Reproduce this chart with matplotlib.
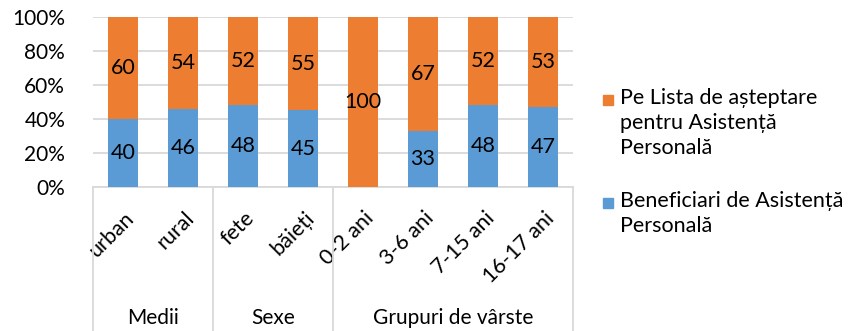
import matplotlib
matplotlib.use("Agg")
import matplotlib.pyplot as plt
import matplotlib.transforms as mtransforms
import numpy as np

plt.rcParams['font.family'] = ['Lato', 'DejaVu Sans']

categories = ["urban", "rural", "fete", "băieți", "0-2 ani", "3-6 ani", "7-15 ani", "16-17 ani"]
beneficiari = [40, 46, 48, 45, 0, 33, 48, 47]
lista = [60, 54, 52, 55, 100, 67, 52, 53]
groups = ["Medii", "Sexe", "Grupuri de vârste"]
group_sizes = [2, 2, 4]
series_names = ["Pe Lista de așteptare\npentru Asistență\nPersonală",
                "Beneficiari de Asistență\nPersonală"]

blue = "#5B9BD5"
orange = "#ED7D31"
grid_c = '#D9D9D9'

W, H = 855, 331
fig = plt.figure(figsize=(W/100, H/100), dpi=100)
ax = fig.add_axes([93/W, 1-187/H, 480/W, 170/H])

x = np.arange(len(categories))
ax.bar(x, beneficiari, width=0.5, color=blue, zorder=3)
ax.bar(x, lista, width=0.5, bottom=beneficiari, color=orange, zorder=3)

for i in range(len(categories)):
    if beneficiari[i] > 0:
        ax.text(x[i], beneficiari[i]/2, str(beneficiari[i]), ha='center', va='center',
                fontsize=15.5, color='black', zorder=4)
    if lista[i] > 0:
        ax.text(x[i], beneficiari[i] + lista[i]/2, str(lista[i]), ha='center', va='center',
                fontsize=15.5, color='black', zorder=4)

ax.set_xlim(-0.5, len(categories)-0.5)
ax.set_ylim(0, 100)
ax.set_yticks(np.arange(0, 101, 20))
ax.set_yticklabels([f"{v}%" for v in range(0, 101, 20)], fontsize=15)
ax.yaxis.grid(True, color=grid_c, linewidth=1.3, zorder=0)
ax.set_axisbelow(True)
for s in ['top', 'right', 'left']:
    ax.spines[s].set_visible(False)
ax.spines['bottom'].set_color(grid_c)
ax.spines['bottom'].set_linewidth(1.3)
ax.tick_params(axis='y', length=0, pad=20)
ax.tick_params(axis='x', length=0, pad=15)
ax.set_xticks(x)
ax.set_xticklabels(categories, rotation=45, ha='right', rotation_mode='anchor', fontsize=15.5)
offset = mtransforms.ScaledTranslation(1/100, 0, fig.dpi_scale_trans)
for lbl in ax.get_xticklabels():
    lbl.set_transform(lbl.get_transform() + offset)

# group separators and labels
trans = ax.get_xaxis_transform()
y_bottom = -144/170
bounds = [-0.5]
for g in group_sizes:
    bounds.append(bounds[-1] + g)
for bx in bounds:
    ax.plot([bx, bx], [0, y_bottom], transform=trans, color=grid_c, lw=1.3, clip_on=False)
for i, gname in enumerate(groups):
    cx = (bounds[i] + bounds[i+1]) / 2
    ax.text(cx, -131/170, gname, transform=trans, ha='center', va='center', fontsize=15)

# legend (manual, Excel-style: marker aligned with first line)
leg_items = [(orange, series_names[0], 100), (blue, series_names[1], 203)]
for col, label, ytop in leg_items:
    fig.patches.append(plt.Rectangle((603/W, 1-(ytop+5)/H), 10/W, 10/H,
                                     transform=fig.transFigure, color=col))
    fig.text(620/W, 1-(ytop-12)/H, label, ha='left', va='top', fontsize=15.5,
             linespacing=1.3)

fig.savefig("out.png", dpi=100)
